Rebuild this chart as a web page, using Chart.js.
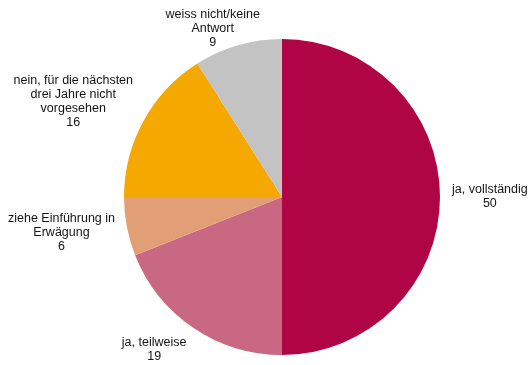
<!DOCTYPE html>
<html>
<head>
<meta charset="utf-8">
<script src="https://cdn.jsdelivr.net/npm/chart.js@4/dist/chart.umd.min.js"></script>
<style>
  html, body { margin: 0; padding: 0; background: #ffffff; }
  #wrap { width: 529px; height: 365px; position: relative; }
</style>
</head>
<body>
<div id="wrap"><canvas id="c" width="529" height="365"></canvas></div>
<script>
const categories = [
  ["ja, vollständig"],
  ["ja, teilweise"],
  ["ziehe Einführung in", "Erwägung"],
  ["nein, für die nächsten", "drei Jahre nicht", "vorgesehen"],
  ["weiss nicht/keine", "Antwort"]
];
const values = [50, 19, 6, 16, 9];
const colors = ["#AF0545", "#C96882", "#E29F75", "#F4A800", "#C3C3C3"];

const LABEL_FONT = '12.5px "Liberation Sans", Arial, sans-serif';
const LINE_H = 14;
const GAP = 12;
const TOP_MARGIN = 8;

const outsideLabels = {
  id: 'outsideLabels',
  afterDatasetsDraw(chart) {
    const ctx = chart.ctx;
    const meta = chart.getDatasetMeta(0);
    ctx.save();
    ctx.font = LABEL_FONT;
    ctx.fillStyle = '#141414';
    ctx.textAlign = 'center';
    ctx.textBaseline = 'middle';
    meta.data.forEach((arc, i) => {
      const p = arc.getProps(['x', 'y', 'startAngle', 'endAngle', 'outerRadius'], true);
      const mid = (p.startAngle + p.endAngle) / 2;
      const dx = Math.cos(mid), dy = Math.sin(mid);
      const lines = categories[i].concat([String(values[i])]);
      const w = Math.max(...lines.map(l => ctx.measureText(l).width)) / 2;
      const h = lines.length * LINE_H / 2;
      const fx = Math.sign(dx) * Math.min(1, Math.abs(dx) / 0.5);
      let t = p.outerRadius + GAP;
      let cy = p.y + t * dy + h * dy;
      if (cy - h < TOP_MARGIN && dy < 0) {
        t = (TOP_MARGIN - p.y - h * dy + h) / dy;
        cy = p.y + t * dy + h * dy;
      }
      const cx = p.x + t * dx + w * fx;
      lines.forEach((l, k) => {
        ctx.fillText(l, cx, cy - h + LINE_H * (k + 0.5));
      });
    });
    ctx.restore();
  }
};

new Chart(document.getElementById('c'), {
  type: 'pie',
  data: {
    labels: categories,
    datasets: [{
      data: values,
      backgroundColor: colors,
      borderWidth: 0
    }]
  },
  options: {
    responsive: false,
    animation: false,
    layout: { padding: { top: 39, bottom: 10, left: 124, right: 89 } },
    plugins: {
      legend: { display: false },
      tooltip: { enabled: false }
    }
  },
  plugins: [outsideLabels]
});
</script>
</body>
</html>
